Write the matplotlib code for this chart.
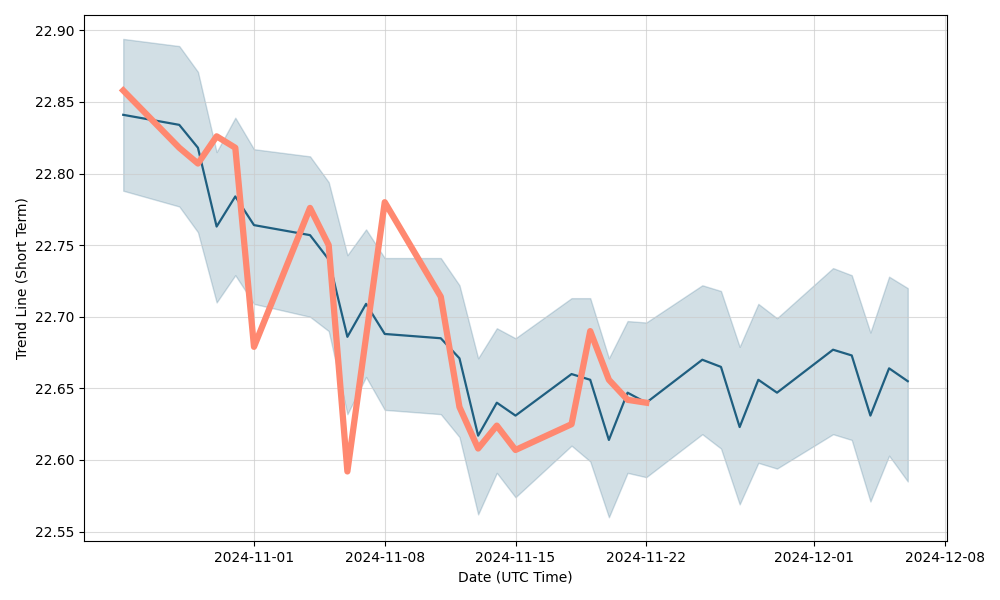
import numpy as np
import pandas as pd
import matplotlib
matplotlib.use("Agg")
import matplotlib.pyplot as plt

# dates of the trend line and its band
dates = pd.to_datetime([
    "2024-10-25", "2024-10-28", "2024-10-29", "2024-10-30", "2024-10-31",
    "2024-11-01", "2024-11-04", "2024-11-05", "2024-11-06", "2024-11-07",
    "2024-11-08", "2024-11-11", "2024-11-12", "2024-11-13", "2024-11-14",
    "2024-11-15", "2024-11-18", "2024-11-19", "2024-11-20", "2024-11-21",
    "2024-11-22", "2024-11-25", "2024-11-26", "2024-11-27", "2024-11-28",
    "2024-11-29", "2024-12-02", "2024-12-03", "2024-12-04", "2024-12-05",
    "2024-12-06",
])

trend = [22.841, 22.834, 22.818, 22.763, 22.784,
         22.764, 22.757, 22.740, 22.686, 22.709,
         22.688, 22.685, 22.671, 22.617, 22.640,
         22.631, 22.660, 22.656, 22.614, 22.647,
         22.640, 22.670, 22.665, 22.623, 22.656,
         22.647, 22.677, 22.673, 22.631, 22.664,
         22.655]

upper = [22.894, 22.889, 22.871, 22.815, 22.839,
         22.817, 22.812, 22.794, 22.743, 22.761,
         22.741, 22.741, 22.722, 22.671, 22.692,
         22.685, 22.713, 22.713, 22.671, 22.697,
         22.696, 22.722, 22.718, 22.679, 22.709,
         22.699, 22.734, 22.729, 22.689, 22.728,
         22.720]

lower = [22.788, 22.777, 22.759, 22.710, 22.729,
         22.709, 22.700, 22.690, 22.632, 22.658,
         22.635, 22.632, 22.616, 22.562, 22.591,
         22.574, 22.610, 22.599, 22.560, 22.591,
         22.588, 22.618, 22.608, 22.569, 22.598,
         22.594, 22.618, 22.614, 22.571, 22.603,
         22.585]

# actual price (orange line)
price_dates = pd.to_datetime([
    "2024-10-25", "2024-10-28", "2024-10-29", "2024-10-30", "2024-10-31",
    "2024-11-01", "2024-11-04", "2024-11-05", "2024-11-06", "2024-11-08",
    "2024-11-11", "2024-11-12", "2024-11-13", "2024-11-14", "2024-11-15",
    "2024-11-18", "2024-11-19", "2024-11-20", "2024-11-21", "2024-11-22",
])
price = [22.858, 22.818, 22.807, 22.826, 22.818,
         22.679, 22.776, 22.750, 22.592, 22.780,
         22.714, 22.637, 22.608, 22.624, 22.607,
         22.625, 22.690, 22.656, 22.642, 22.640]

line_color = "#1F5F80"
price_color = "#FF8870"

fig, ax = plt.subplots(figsize=(10, 6), dpi=100)
ax.fill_between(dates, lower, upper, color=line_color, alpha=0.2)
ax.plot(dates, trend, color=line_color, linewidth=1.6)
ax.plot(price_dates, price, color=price_color, linewidth=4.5)

ax.grid(True, color="#cccccc", alpha=0.7, linewidth=0.8)
ax.set_xlabel("Date (UTC Time)")
ax.set_ylabel("Trend Line (Short Term)")

fig.subplots_adjust(left=0.084, right=0.947, top=0.975, bottom=0.098)
fig.savefig("out.png")
